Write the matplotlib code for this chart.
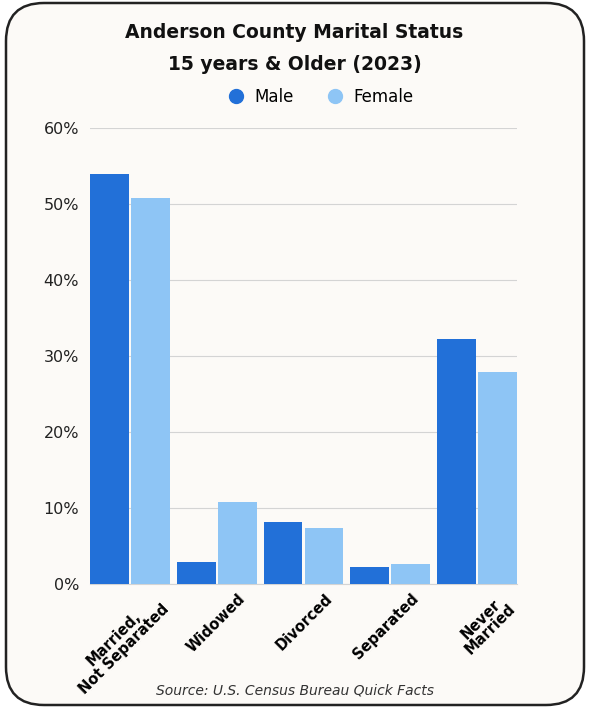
import numpy as np
import matplotlib.pyplot as plt
from matplotlib.patches import FancyBboxPatch
from matplotlib.lines import Line2D
from matplotlib.ticker import FuncFormatter
from matplotlib.transforms import ScaledTranslation

plt.rcParams['font.family'] = ['DejaVu Sans']

categories = ["Married,\nNot Separated", "Widowed", "Divorced", "Separated", "Never\nMarried"]
male = [53.9, 2.9, 8.2, 2.2, 32.2]
female = [50.8, 10.8, 7.4, 2.6, 27.9]
yticks = [0, 10, 20, 30, 40, 50, 60]

male_color = "#2270d8"
female_color = "#8ec5f5"
bg = "#fcfaf7"

fig = plt.figure(figsize=(5.89, 7.08), dpi=100)
fig.patch.set_facecolor("white")

# rounded card behind everything (in inches so the corners stay circular)
card = FancyBboxPatch((0.06, 0.03), 5.78, 7.02,
                      boxstyle="round,pad=0,rounding_size=0.38",
                      transform=fig.dpi_scale_trans, facecolor=bg,
                      edgecolor="#222222", linewidth=1.8, zorder=-5)
fig.patches.append(card)

ax = fig.add_axes([90 / 589, 1 - 584 / 708, 427 / 589, (584 - 128) / 708])
ax.set_zorder(2)
ax.set_facecolor("none")

x = np.arange(len(categories))
w = 0.447
gap = 0.028
ax.bar(x - (w + gap) / 2, male, width=w, color=male_color, zorder=3)
ax.bar(x + (w + gap) / 2, female, width=w, color=female_color, zorder=3)

ax.set_xlim(-0.461, len(categories) - 1 + 0.461)
ax.set_ylim(0, 60)
ax.set_yticks(yticks)
ax.yaxis.set_major_formatter(FuncFormatter(lambda v, p: f"{v:.0f}%"))
ax.grid(axis="y", color="#d4d4d4", linewidth=0.8, zorder=0)
for s in ["top", "right", "left"]:
    ax.spines[s].set_visible(False)
ax.spines["bottom"].set_color("#d4d4d4")
ax.tick_params(axis="y", length=0, labelsize=11.5, labelcolor="#222222", pad=8)
ax.tick_params(axis="x", length=0, pad=5)
ax.set_xticks(x)
ax.set_xticklabels(categories, rotation=45, ha="right", rotation_mode="anchor",
                   fontsize=10.5, fontweight="bold", linespacing=0.95,
                   multialignment="center")
shift = ScaledTranslation(0.21, 0, fig.dpi_scale_trans)
for lbl in ax.get_xticklabels():
    lbl.set_transform(lbl.get_transform() + shift)

fig.text(0.5, 1 - 32 / 708, "Anderson County Marital Status", ha="center", va="center",
         fontsize=13.5, fontweight="bold", color="#111111")
fig.text(0.5, 1 - 64 / 708, "15 years & Older (2023)", ha="center", va="center",
         fontsize=13.5, fontweight="bold", color="#111111")

handles = [Line2D([], [], marker="o", linestyle="none", markersize=10, color=male_color),
           Line2D([], [], marker="o", linestyle="none", markersize=10, color=female_color)]
fig.legend(handles, ["Male", "Female"], loc="center", bbox_to_anchor=(0.537, 1 - 97 / 708),
           ncol=2, frameon=False, fontsize=12, handletextpad=0.1, columnspacing=1.5)

fig.text(0.5, 1 - 690 / 708, "Source: U.S. Census Bureau Quick Facts", ha="center", va="center",
         fontsize=10, style="italic", color="#333333")

fig.savefig("out.png", dpi=100, facecolor=fig.get_facecolor())
